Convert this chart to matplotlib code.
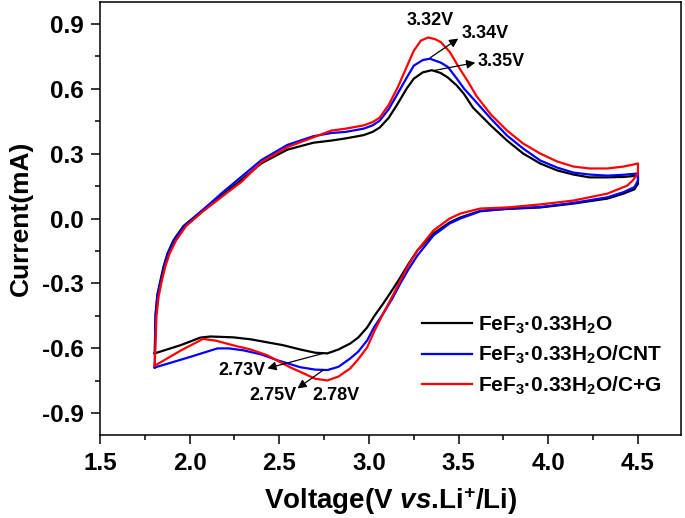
import matplotlib
matplotlib.use("Agg")
import matplotlib.pyplot as plt
from matplotlib.ticker import FixedLocator, MultipleLocator

plt.rcParams['font.family'] = ['Liberation Sans', 'DejaVu Sans']
plt.rcParams['font.weight'] = 'bold'
plt.rcParams['mathtext.fontset'] = 'custom'
plt.rcParams['mathtext.rm'] = 'Liberation Sans:bold'
plt.rcParams['mathtext.bf'] = 'Liberation Sans:bold'
plt.rcParams['mathtext.it'] = 'Liberation Sans:italic:bold'
plt.rcParams['mathtext.default'] = 'bf'
plt.rcParams['axes.unicode_minus'] = False

# ---------------- data ----------------
labels = ['FeF$_3$·0.33H$_2$O', 'FeF$_3$·0.33H$_2$O/CNT', 'FeF$_3$·0.33H$_2$O/C+G']
colors = ['black', 'blue', 'red']

black_v = [1.805, 1.81, 1.82, 1.837, 1.855, 1.876, 1.91, 1.965, 2.06, 2.19, 2.27, 2.40, 2.545, 2.69, 2.79,
           2.87, 2.97, 3.02, 3.06, 3.11, 3.16, 3.21, 3.25, 3.30, 3.35, 3.40, 3.44, 3.49, 3.53, 3.58, 3.68, 3.77, 3.86, 3.955,
           4.05, 4.14, 4.23, 4.33, 4.42, 4.50,
           4.50, 4.48, 4.42, 4.33, 4.14, 3.955, 3.77, 3.62, 3.51, 3.45, 3.36, 3.27, 3.22, 3.175, 3.13, 3.08, 3.03, 2.99, 2.94,
           2.896, 2.83, 2.768, 2.70, 2.617, 2.52, 2.433, 2.34, 2.244, 2.116, 2.06, 1.95, 1.805]
black_i = [-0.623, -0.44, -0.35, -0.286, -0.22, -0.162, -0.10, -0.035, 0.03, 0.115, 0.166, 0.255, 0.318, 0.35, 0.36,
           0.37, 0.385, 0.40, 0.42, 0.465, 0.53, 0.60, 0.646, 0.675, 0.685, 0.672, 0.651, 0.614, 0.575, 0.512, 0.429, 0.36, 0.30, 0.254,
           0.222, 0.203, 0.19, 0.19, 0.192, 0.198,
           0.16, 0.135, 0.115, 0.092, 0.069, 0.051, 0.044, 0.035, 0.005, -0.018, -0.069, -0.148, -0.21, -0.272, -0.33, -0.392, -0.45, -0.503, -0.55,
           -0.577, -0.605, -0.623, -0.62, -0.605, -0.585, -0.572, -0.558, -0.549, -0.545, -0.55, -0.585, -0.623]

blue_v = [1.805, 1.81, 1.82, 1.84, 1.858, 1.88, 1.915, 1.97, 2.06, 2.19, 2.27, 2.40, 2.545, 2.69, 2.79,
          2.87, 2.97, 3.02, 3.06, 3.11, 3.16, 3.21, 3.25, 3.30, 3.34, 3.40, 3.44, 3.49, 3.53, 3.58, 3.68, 3.77, 3.86, 3.955,
          4.05, 4.14, 4.23, 4.33, 4.42, 4.50,
          4.50, 4.48, 4.42, 4.33, 4.14, 3.955, 3.77, 3.62, 3.51, 3.45, 3.36, 3.27, 3.22, 3.175, 3.13, 3.08, 3.03, 2.99, 2.94,
          2.896, 2.83, 2.768, 2.70, 2.617, 2.49, 2.40, 2.30, 2.22, 2.155, 2.0, 1.9, 1.805]
blue_i = [-0.688, -0.45, -0.36, -0.286, -0.22, -0.162, -0.10, -0.035, 0.03, 0.125, 0.18, 0.27, 0.34, 0.38, 0.395,
          0.40, 0.415, 0.43, 0.452, 0.505, 0.577, 0.65, 0.706, 0.732, 0.738, 0.72, 0.70, 0.646, 0.60, 0.554, 0.461, 0.383, 0.323, 0.268,
          0.235, 0.212, 0.203, 0.198, 0.202, 0.208,
          0.175, 0.145, 0.122, 0.098, 0.072, 0.053, 0.046, 0.033, 0.0, -0.023, -0.078, -0.171, -0.235, -0.30, -0.37, -0.438, -0.50, -0.563, -0.615,
          -0.646, -0.685, -0.70, -0.698, -0.687, -0.655, -0.628, -0.609, -0.60, -0.60, -0.64, -0.665, -0.688]

red_v = [1.805, 1.815, 1.827, 1.845, 1.865, 1.888, 1.925, 1.98, 2.07, 2.21, 2.29, 2.40, 2.545, 2.69, 2.79,
         2.87, 2.97, 3.02, 3.06, 3.11, 3.16, 3.21, 3.25, 3.29, 3.33, 3.37, 3.40, 3.45, 3.50, 3.55, 3.60, 3.68, 3.77, 3.86, 3.955,
         4.05, 4.14, 4.23, 4.33, 4.42, 4.50,
         4.50, 4.47, 4.44, 4.33, 4.14, 3.955, 3.77, 3.62, 3.51, 3.45, 3.36, 3.27, 3.22, 3.175, 3.13, 3.08, 3.03, 2.99, 2.94,
         2.896, 2.83, 2.768, 2.70, 2.56, 2.433, 2.34, 2.244, 2.15, 2.075, 1.95, 1.805]
red_i = [-0.68, -0.45, -0.36, -0.286, -0.22, -0.162, -0.10, -0.035, 0.03, 0.12, 0.17, 0.26, 0.33, 0.375, 0.406,
         0.415, 0.43, 0.445, 0.466, 0.525, 0.605, 0.70, 0.775, 0.822, 0.836, 0.828, 0.815, 0.77, 0.70, 0.635, 0.565, 0.48, 0.406, 0.346, 0.30,
         0.263, 0.24, 0.231, 0.231, 0.24, 0.254,
         0.208, 0.175, 0.152, 0.115, 0.083, 0.065, 0.051, 0.046, 0.023, 0.0, -0.055, -0.148, -0.215, -0.286, -0.36, -0.438, -0.52, -0.595, -0.65,
         -0.692, -0.73, -0.748, -0.74, -0.687, -0.632, -0.605, -0.586, -0.565, -0.556, -0.61, -0.68]

x_ticks = [1.5, 2.0, 2.5, 3.0, 3.5, 4.0, 4.5]
x_tick_labels = ['1.5', '2.0', '2.5', '3.0', '3.5', '4.0', '4.5']
y_ticks = [-0.9, -0.6, -0.3, 0.0, 0.3, 0.6, 0.9]
y_tick_labels = ['-0.9', '-0.6', '-0.3', '0.0', '0.3', '0.6', '0.9']

# peak annotations: text, text position, arrow tail (on curve), arrow head
ann_text = ['3.32V', '3.34V', '3.35V', '2.73V', '2.75V', '2.78V']
ann_pos = [(3.34, 0.914), (3.649, 0.854), (3.738, 0.724), (2.289, -0.70), (2.462, -0.817), (2.818, -0.817)]
arrow_tail = [None, (3.342, 0.743), (3.359, 0.683), (2.745, -0.623), (2.745, -0.70), None]
arrow_head = [None, (3.498, 0.831), (3.593, 0.72), (2.433, -0.692), (2.601, -0.785), None]

# ---------------- figure ----------------
fig = plt.figure(figsize=(6.85, 5.18), dpi=100)
ax = fig.add_axes([100/685, 1 - 435/518, 581/685, 433/518])

series = [(black_v, black_i), (blue_v, blue_i), (red_v, red_i)]
for (v, i), c, lab in zip(series, colors, labels):
    ax.plot(v, i, color=c, lw=1.6, label=lab, solid_joinstyle='round')

ax.set_xlim(1.5, 4.74)
ax.set_ylim(-1.0, 1.0)
ax.xaxis.set_major_locator(FixedLocator(x_ticks))
ax.set_xticklabels(x_tick_labels)
ax.yaxis.set_major_locator(FixedLocator(y_ticks))
ax.set_yticklabels(y_tick_labels)
ax.xaxis.set_minor_locator(MultipleLocator(0.25))
ax.yaxis.set_minor_locator(MultipleLocator(0.15))
ax.tick_params(which='major', direction='out', length=6.5, width=1.1, labelsize=17.5)
ax.tick_params(axis='x', which='major', pad=6)
ax.tick_params(axis='y', which='major', pad=5)
ax.tick_params(which='minor', direction='out', length=3.5, width=1.1)
ax.tick_params(top=False, right=False, which='both')
for lab in ax.get_xticklabels() + ax.get_yticklabels():
    lab.set_fontweight('bold')
for s in ax.spines.values():
    s.set_linewidth(1.1)

ax.set_xlabel('Voltage(V $\\mathit{vs}$.Li$^{+}$/Li)', fontsize=20, fontweight='bold', labelpad=7)
ax.set_ylabel('Current(mA)', fontsize=19, fontweight='bold', labelpad=7)

for t, p, tl, hd in zip(ann_text, ann_pos, arrow_tail, arrow_head):
    ax.text(p[0], p[1], t, fontsize=13, fontweight='bold', ha='center', va='center')
    if tl is not None:
        ax.annotate('', xy=hd, xytext=tl,
                    arrowprops=dict(arrowstyle='-|>', color='black', lw=0.9,
                                    mutation_scale=13, shrinkA=0, shrinkB=0))

leg = ax.legend(loc='center left', bbox_to_anchor=(0.554, 0.183), frameon=False,
                fontsize=15, handlelength=2.4, handletextpad=0.3, labelspacing=0.4,
                borderpad=0, borderaxespad=0)
for t in leg.get_texts():
    t.set_fontweight('bold')

fig.savefig('out.png', dpi=100)
